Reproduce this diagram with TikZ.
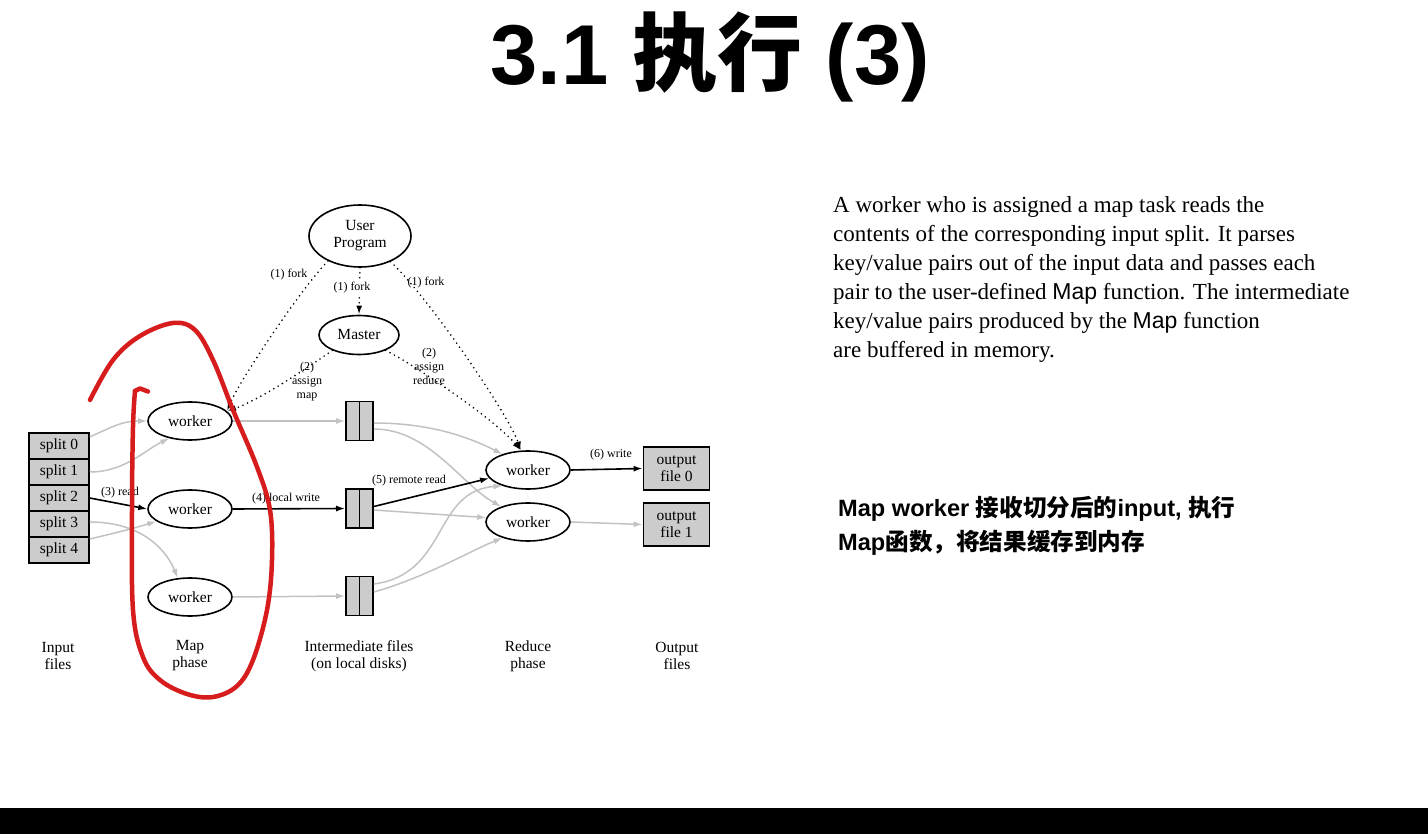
\documentclass[tikz,border=0pt]{standalone}
\usepackage{fontspec}
\setmainfont{Liberation Serif}
\newfontfamily\lsans{Liberation Sans}
\newfontfamily\cjk{Noto Sans CJK SC}
\usetikzlibrary{shapes.geometric,arrows.meta}
\definecolor{boxgray}{gray}{0.8}
\definecolor{linegray}{gray}{0.76}
\definecolor{penred}{RGB}{214,28,28}

\tikzset{
  fig/.style={font=\fontsize{15.5}{17}\selectfont},
  proc/.style={ellipse, draw, line width=1.6pt, inner sep=0pt,
    minimum width=84pt, minimum height=38pt, fig},
  splitbox/.style={rectangle, draw, line width=1.5pt, fill=boxgray,
    minimum width=60pt, minimum height=26pt, inner sep=0pt, fig},
  filebox/.style={rectangle, draw, line width=1.7pt, fill=boxgray,
    minimum width=27pt, minimum height=39pt, inner sep=0pt},
  outbox/.style={rectangle, draw, line width=1.8pt, fill=boxgray,
    minimum width=66pt, minimum height=43pt, inner sep=0pt, align=center, fig},
  tip/.style={-{Latex[length=9pt,width=6pt]}},
  flow/.style={tip, draw=black, line width=1.6pt},
  faint/.style={tip, draw=linegray, line width=1.5pt},
  ctrl/.style={tip, draw=black, line width=1.8pt, line cap=round,
    dash pattern=on 0pt off 5pt},
  elabel/.style={font=\fontsize{12}{14}\selectfont, align=center, inner sep=1pt},
  caption/.style={fig, align=center},
}

\begin{document}
\begin{tikzpicture}[x=1pt,y=-1pt]
\fill[white] (0,0) rectangle (1428,834);
\useasboundingbox (0,0) rectangle (1428,834);
\fill[black] (0,808) rectangle (1428,834);

% slide title
\node (title) at (710,57)
  {\fontsize{85}{85}\selectfont\lsans\bfseries 3.1 {\cjk\bfseries 执行} (3)};

% processes
\node[proc, minimum width=102pt, minimum height=62pt, align=center] (up) at (360,236) {User\\Program};
\node[proc, minimum width=80pt, minimum height=39pt] (ms) at (359,335) {Master};
\node[proc] (w1) at (190,421) {worker};
\node[proc] (w2) at (190,509) {worker};
\node[proc] (w3) at (190,597) {worker};
\node[proc] (r1) at (528,470) {worker};
\node[proc] (r2) at (528,522) {worker};

% input splits
\node[splitbox] (s0) at (59,446) {split 0};
\node[splitbox] (s1) at (59,472) {split 1};
\node[splitbox] (s2) at (59,498) {split 2};
\node[splitbox] (s3) at (59,524) {split 3};
\node[splitbox] (s4) at (59,550) {split 4};

% intermediate files on local disks
\node[filebox] (f1) at (359.5,421) {};
\node[filebox] (f2) at (359.5,508.5) {};
\node[filebox] (f3) at (359.5,596) {};
\foreach \f in {f1,f2,f3}
  \draw[line width=1.7pt] (\f.north) -- (\f.south);

% output files
\node[outbox] (o0) at (676.5,468.5) {output\\file 0};
\node[outbox] (o1) at (676.5,524.5) {output\\file 1};

% column captions
\node[caption] (capin)  at (58,656)  {Input\\files};
\node[caption] (capmap) at (190,656) {Map\\phase};
\node[caption] (capmid) at (359,656) {Intermediate files\\(on local disks)};
\node[caption] (capred) at (528,656) {Reduce\\phase};
\node[caption] (capout) at (677,656) {Output\\files};

% inputs to map workers
\draw[faint] ([yshift=9pt]s0.east) .. controls +(22,-10) and +(-25,0) .. (w1.west);
\draw[faint] (s1.east) .. controls +(35,0) and +(-25,12) .. (w1.220);
\draw[flow] (s2.east) -- (w2.west);
\draw[faint] ([yshift=2pt]s3.east) .. controls +(55,0) and +(-10,-25) .. (w3.123);
\draw[faint] ([yshift=11pt]s4.east) .. controls +(25,-6) and +(-25,8) .. (w2.200);

% map workers to local files
\draw[faint] (w1.east) -- (f1.west);
\draw[flow] (w2.east) -- (f2.west);
\draw[faint] (w3.east) -- (f3.west);

% remote reads
\draw[faint] ([yshift=-2pt]f1.east) .. controls +(60,0) and +(-30,-15) .. (r1.148);
\draw[faint] ([yshift=-8pt]f1.east) .. controls +(55,0) and +(-40,-22) .. (r2.150);
\draw[flow] ([yshift=2pt]f2.east) -- (r1.192);
\draw[faint] ([yshift=-1.5pt]f2.east) -- (r2.174);
\draw[faint] ([yshift=12pt]f3.east) .. controls +(75,-10) and +(-70,5) .. (r1.212);
\draw[faint] ([yshift=4pt]f3.east) .. controls +(50,-14) and +(-30,12) .. (r2.212);

% outputs
\draw[flow] (r1.east) -- (o0.west);
\draw[faint] (r2.east) -- (o1.west);

% control messages
\draw[ctrl] (up.south) -- (ms.north);
\draw[ctrl] (up.218) .. controls +(-25,25) and +(12,-30) .. (w1.15);
\draw[ctrl] (ms.210) .. controls +(-25,18) and +(30,-10) .. (w1.15);
\draw[ctrl] (up.-40) .. controls +(40,38) and +(-12,-35) .. (r1.110);
\draw[ctrl] (ms.-30) .. controls +(30,15) and +(-25,-30) .. (r1.110);

% edge labels
\node[elabel] (l1a) at (289,275) {(1) fork};
\node[elabel, fill=white] (l1b) at (352,288) {(1) fork};
\node[elabel] (l1c) at (426,283) {(1) fork};
\node[elabel] (l2a) at (307,382) {(2)\\assign\\map};
\node[elabel] (l2b) at (429,366) {(2)\\assign\\reduce};
\node[elabel] (l3) at (120,493) {(3) read};
\node[elabel] (l4) at (286,499) {(4) local write};
\node[elabel] (l5) at (409,481) {(5) remote read};
\node[elabel] (l6) at (611,455) {(6) write};

% explanation
\node[anchor=north west, inner sep=0pt, align=left,
      font=\fontsize{23}{29}\selectfont] (para) at (833,196)
  {A worker who is assigned a map task reads the\\
   contents of the corresponding input split. It parses\\
   key/value pairs out of the input data and passes each\\
   pair to the user-defined {\lsans Map} function. The intermediate\\
   key/value pairs produced by the {\lsans Map} function\\
   are buffered in memory.};

\node[anchor=west, inner sep=0pt, align=left,
      font=\fontsize{23.6}{34}\selectfont\lsans\bfseries] (note) at (838,526)
  {Map worker {\cjk 接收切分后的}input, {\cjk 执行}\\
   Map{\cjk 函数，将结果缓存到内存}};

% hand-drawn highlight around the map phase
\draw[penred, line width=4.5pt, line cap=round, line join=round]
  plot[smooth, tension=0.6] coordinates {(90,400) (113,360) (140,336) (173,323)
    (195,330) (213,360) (233,410) (257,467) (270,510) (272,560) (267,610)
    (253,660) (237,686) (213,697) (187,694) (160,680) (143,657) (133,610)
    (132,510) (133,427) (135,391)};
\draw[penred, line width=4.5pt, line cap=round, line join=round]
  (135,391) -- (140,388.5) -- (148,391.5);
\end{tikzpicture}
\end{document}
